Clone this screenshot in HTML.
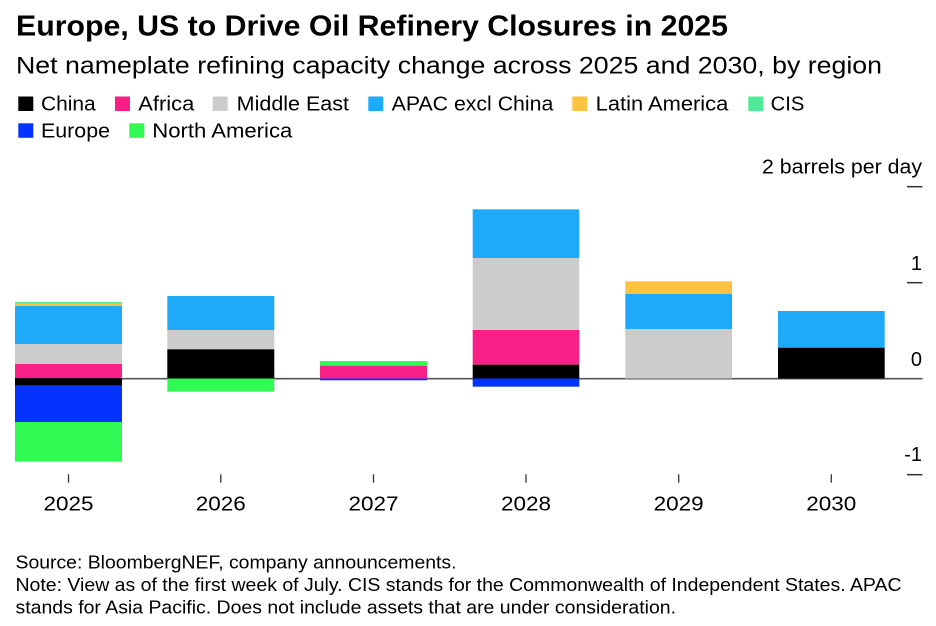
<!DOCTYPE html>
<html>
<head>
<meta charset="utf-8">
<style>
  html,body{margin:0;padding:0;background:#fff;}
  svg{display:block;}
  text{font-family:"Liberation Sans",Arial,sans-serif;fill:#000;}
</style>
</head>
<body>
<svg width="936" height="626" viewBox="0 0 936 626" xmlns="http://www.w3.org/2000/svg">
  <rect width="936" height="626" fill="#fff"/>

  <!-- Title / subtitle -->
  <text x="16" y="35.7" font-size="29" font-weight="bold" textLength="712" lengthAdjust="spacingAndGlyphs">Europe, US to Drive Oil Refinery Closures in 2025</text>
  <text x="16" y="73.3" font-size="24" textLength="866" lengthAdjust="spacingAndGlyphs">Net nameplate refining capacity change across 2025 and 2030, by region</text>

  <!-- Legend row 1 -->
  <rect x="18.3" y="96.5" width="15" height="14.5" fill="#000000"/>
  <text x="41" y="110.6" font-size="20" textLength="54.7" lengthAdjust="spacingAndGlyphs">China</text>
  <rect x="115" y="96.5" width="15" height="14.5" fill="#f81f86"/>
  <text x="138.3" y="110.6" font-size="20" textLength="56" lengthAdjust="spacingAndGlyphs">Africa</text>
  <rect x="212.7" y="96.5" width="15" height="14.5" fill="#cccccc"/>
  <text x="236.7" y="110.6" font-size="20" textLength="112.3" lengthAdjust="spacingAndGlyphs">Middle East</text>
  <rect x="368.3" y="96.5" width="15" height="14.5" fill="#1eaaf8"/>
  <text x="391.7" y="110.6" font-size="20" textLength="161.6" lengthAdjust="spacingAndGlyphs">APAC excl China</text>
  <rect x="572.3" y="96.5" width="15" height="14.5" fill="#fdc33e"/>
  <text x="595.7" y="110.6" font-size="20" textLength="132.6" lengthAdjust="spacingAndGlyphs">Latin America</text>
  <rect x="748.3" y="96.5" width="15" height="14.5" fill="#4feb9a"/>
  <text x="770.7" y="110.6" font-size="20" textLength="33.6" lengthAdjust="spacingAndGlyphs">CIS</text>

  <!-- Legend row 2 -->
  <rect x="18.3" y="123.3" width="15" height="14.5" fill="#0533fe"/>
  <text x="41" y="137.3" font-size="20" textLength="69" lengthAdjust="spacingAndGlyphs">Europe</text>
  <rect x="129.3" y="123.3" width="15" height="14.5" fill="#31fa55"/>
  <text x="152.3" y="137.3" font-size="20" textLength="140" lengthAdjust="spacingAndGlyphs">North America</text>

  <!-- Y axis unit label -->
  <text x="922" y="173.3" font-size="20" text-anchor="end" textLength="160" lengthAdjust="spacingAndGlyphs">2 barrels per day</text>
  <!-- Y ticks -->
  <g stroke="#333" stroke-width="1.5">
    <line x1="907" y1="186.7" x2="922.5" y2="186.7"/>
    <line x1="907" y1="282.7" x2="922.5" y2="282.7"/>
    <line x1="907" y1="474.7" x2="922.5" y2="474.7"/>
  </g>
  <text x="922" y="270" font-size="20" text-anchor="end">1</text>
  <text x="922" y="366" font-size="20" text-anchor="end">0</text>
  <text x="922" y="461" font-size="20" text-anchor="end">-1</text>

  <!-- Zero line -->
  <line x1="15" y1="378.7" x2="922.5" y2="378.7" stroke="#555" stroke-width="1.7"/>

  <!-- 2025 -->
  <g>
    <rect x="15" y="302" width="107" height="1.8" fill="#4feb9a"/>
    <rect x="15" y="303.7" width="107" height="2.4" fill="#fdc33e"/>
    <rect x="15" y="306" width="107" height="38" fill="#1eaaf8"/>
    <rect x="15" y="344" width="107" height="20" fill="#cccccc"/>
    <rect x="15" y="364" width="107" height="14.2" fill="#f81f86"/>
    <rect x="15" y="378.2" width="107" height="7.5" fill="#000000"/>
    <rect x="15" y="385.7" width="107" height="36.3" fill="#0533fe"/>
    <rect x="15" y="422" width="107" height="39.7" fill="#31fa55"/>
  </g>
  <!-- 2026 -->
  <g>
    <rect x="167.3" y="296" width="107" height="34" fill="#1eaaf8"/>
    <rect x="167.3" y="330" width="107" height="19.3" fill="#cccccc"/>
    <rect x="167.3" y="349.3" width="107" height="29.2" fill="#000000"/>
    <rect x="167.3" y="378.5" width="107" height="13.2" fill="#31fa55"/>
  </g>
  <!-- 2027 -->
  <g>
    <rect x="320" y="361" width="107" height="4.7" fill="#31fa55"/>
    <rect x="320" y="365.7" width="107" height="12.8" fill="#f81f86"/>
    <rect x="320" y="378.5" width="107" height="1.8" fill="#0533fe"/>
  </g>
  <!-- 2028 -->
  <g>
    <rect x="472.7" y="209.3" width="106.6" height="48.7" fill="#1eaaf8"/>
    <rect x="472.7" y="258" width="106.6" height="72" fill="#cccccc"/>
    <rect x="472.7" y="330" width="106.6" height="34.7" fill="#f81f86"/>
    <rect x="472.7" y="364.7" width="106.6" height="13.8" fill="#000000"/>
    <rect x="472.7" y="378.5" width="106.6" height="8.2" fill="#0533fe"/>
  </g>
  <!-- 2029 -->
  <g>
    <rect x="625.3" y="281.3" width="106.7" height="12.7" fill="#fdc33e"/>
    <rect x="625.3" y="294" width="106.7" height="35" fill="#1eaaf8"/>
    <rect x="625.3" y="329" width="106.7" height="49.5" fill="#cccccc"/>
  </g>
  <!-- 2030 -->
  <g>
    <rect x="778" y="311" width="106.7" height="36.7" fill="#1eaaf8"/>
    <rect x="778" y="347.7" width="106.7" height="30.8" fill="#000000"/>
  </g>

  <!-- X ticks -->
  <g stroke="#333" stroke-width="1.3">
    <line x1="68.5" y1="474.3" x2="68.5" y2="482.7"/>
    <line x1="220.8" y1="474.3" x2="220.8" y2="482.7"/>
    <line x1="373.5" y1="474.3" x2="373.5" y2="482.7"/>
    <line x1="526" y1="474.3" x2="526" y2="482.7"/>
    <line x1="678.7" y1="474.3" x2="678.7" y2="482.7"/>
    <line x1="831.3" y1="474.3" x2="831.3" y2="482.7"/>
  </g>
  <g font-size="20" text-anchor="middle">
    <text x="68.5" y="510.7" textLength="50" lengthAdjust="spacingAndGlyphs">2025</text>
    <text x="220.8" y="510.7" textLength="50" lengthAdjust="spacingAndGlyphs">2026</text>
    <text x="373.5" y="510.7" textLength="50" lengthAdjust="spacingAndGlyphs">2027</text>
    <text x="526" y="510.7" textLength="50" lengthAdjust="spacingAndGlyphs">2028</text>
    <text x="678.7" y="510.7" textLength="50" lengthAdjust="spacingAndGlyphs">2029</text>
    <text x="831.3" y="510.7" textLength="50" lengthAdjust="spacingAndGlyphs">2030</text>
  </g>

  <!-- Footer -->
  <g font-size="18.5" fill="#111">
    <text x="15.5" y="568.3" textLength="441" lengthAdjust="spacingAndGlyphs">Source: BloombergNEF, company announcements.</text>
    <text x="15.5" y="591" textLength="886" lengthAdjust="spacingAndGlyphs">Note: View as of the first week of July. CIS stands for the Commonwealth of Independent States. APAC</text>
    <text x="15.5" y="613.3" textLength="660.5" lengthAdjust="spacingAndGlyphs">stands for Asia Pacific. Does not include assets that are under consideration.</text>
  </g>
</svg>
</body>
</html>
